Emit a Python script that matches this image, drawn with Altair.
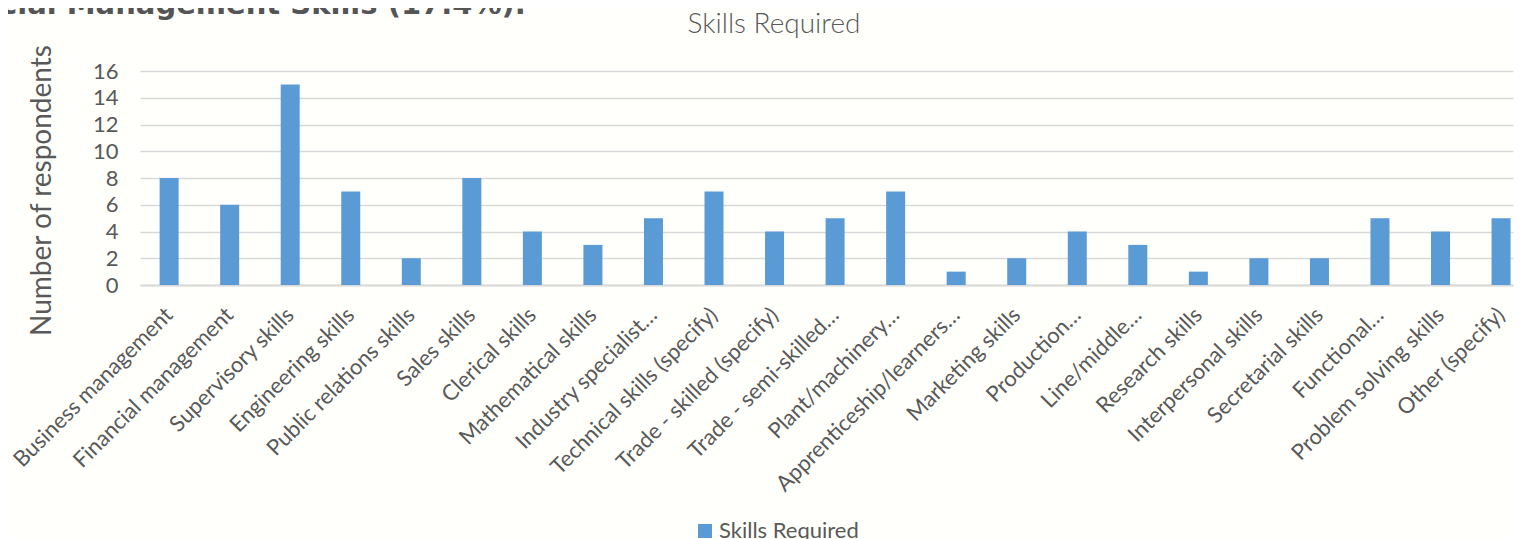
import altair as alt
import pandas as pd

categories = [
    "Business management", "Financial management", "Supervisory skills",
    "Engineering skills", "Public relations skills", "Sales skills",
    "Clerical skills", "Mathematical skills", "Industry specialist…",
    "Technical skills (specify)", "Trade - skilled (specify)",
    "Trade - semi-skilled…", "Plant/machinery…", "Apprenticeship/learners…",
    "Marketing skills", "Production…", "Line/middle…", "Research skills",
    "Interpersonal skills", "Secretarial skills", "Functional…",
    "Problem solving skills", "Other (specify)",
]
values = [8, 6, 15, 7, 2, 8, 4, 3, 5, 7, 4, 5, 7, 1, 2, 4, 3, 1, 2, 2, 5, 4, 5]
series_name = "Skills Required"
y_ticks = [0, 2, 4, 6, 8, 10, 12, 14, 16]
chart_title = ["Skills Required"]
y_title = "Number of respondents"
heading = ["cial Management Skills (17.4%)."]

TXT = "#595959"
GRID = "#d9d9d9"
BAR = "#5b9bd5"
FONT = "Lato"

df = pd.DataFrame({"skill": categories, "count": values, "series": series_name})
head_df = pd.DataFrame({"t": heading})
title_df = pd.DataFrame({"t": chart_title})

bars = alt.Chart(df).mark_bar().encode(
    x=alt.X(
        "skill:N",
        sort=categories,
        scale=alt.Scale(paddingInner=0.686, paddingOuter=0.182, align=0.89),
        axis=alt.Axis(
            title=None, labelAngle=-45, labelAlign="right", labelBaseline="top",
            labelPadding=19, labelOffset=-7, labelFont=FONT, labelFontSize=22,
            labelColor=TXT, labelLimit=400, ticks=False, domainColor=GRID,
            domainWidth=2, grid=False,
        ),
    ),
    y=alt.Y(
        "count:Q",
        scale=alt.Scale(domain=[0, 16], nice=False),
        axis=alt.Axis(
            values=y_ticks, title=y_title, titleFont=FONT, titleFontSize=28,
            titleFontWeight="normal", titleColor=TXT, titleX=-90, titleY=119,
            titleAlign="center", titleBaseline="alphabetic", titleAngle=-90,
            labelFont=FONT, labelFontSize=22, labelColor=TXT, labelPadding=22,
            ticks=False, domain=False, grid=True, gridColor=GRID, gridWidth=1.5,
        ),
    ),
    color=alt.Color(
        "series:N",
        scale=alt.Scale(range=[BAR]),
        legend=alt.Legend(
            title=None, orient="none", legendX=554, legendY=449, padding=0,
            symbolType="square", symbolSize=196, symbolStrokeWidth=0,
            labelFont=FONT, labelFontSize=22, labelColor=TXT, labelOffset=3,
        ),
    ),
)

head = alt.Chart(head_df).mark_text(
    align="left", baseline="alphabetic", font="DejaVu Sans", fontSize=29,
    fontWeight="bold", color="#555555",
).encode(x=alt.value(-140), y=alt.value(-57), text="t:N")

title = alt.Chart(title_df).mark_text(
    align="center", baseline="alphabetic", font=FONT, fontSize=28,
    fontWeight=300, color=TXT,
).encode(x=alt.value(634), y=alt.value(-38), text="t:N")

chart = alt.layer(bars, head, title).properties(
    width=1373,
    height=214,
    padding={"left": 132, "top": 63, "right": 1, "bottom": 254},
    autosize=alt.AutoSizeParams(type="none"),
).configure(background="#fffffc").configure_view(stroke=None)

chart.save("out.html", embed_options={"renderer": "svg", "actions": False})
